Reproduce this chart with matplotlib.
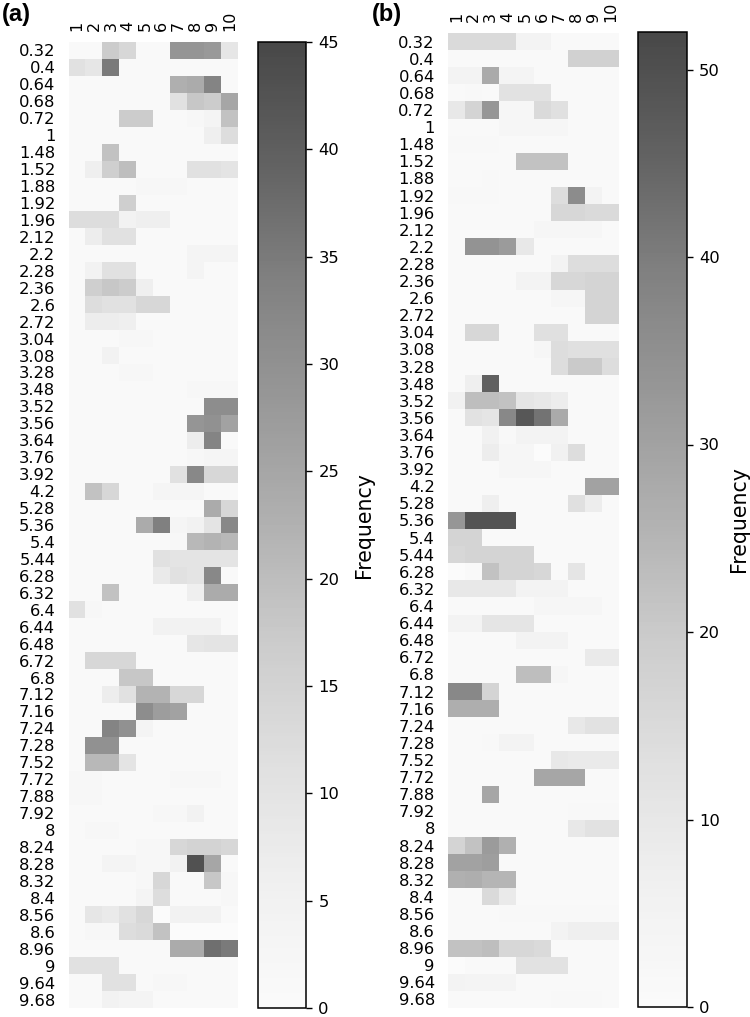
import matplotlib
matplotlib.use("Agg")
import matplotlib.pyplot as plt
import numpy as np

rowsA = ["0.32","0.4","0.64","0.68","0.72","1","1.48","1.52","1.88","1.92","1.96","2.12","2.2","2.28","2.36","2.6","2.72",
	"3.04","3.08","3.28","3.48","3.52","3.56","3.64","3.76","3.92","4.2","5.28","5.36","5.4","5.44","6.28","6.32","6.4",
	"6.44","6.48","6.72","6.8","7.12","7.16","7.24","7.28","7.52","7.72","7.88","7.92","8","8.24","8.28","8.32","8.4",
	"8.56","8.6","8.96","9","9.64","9.68"]
rowsB = rowsA
cols = ["1","2","3","4","5","6","7","8","9","10"]

freqA = [
	[1,1,17,14,1,1,29,29,28,9],
	[11,9,35,1,1,1,1,1,1,1],
	[1,1,1,1,1,1,23,24,33,1],
	[1,1,1,1,1,1,11,18,17,25],
	[1,1,1,17,17,1,1,2,4,19],
	[1,1,1,1,1,1,1,1,6,12],
	[1,1,19,1,1,1,1,1,1,1],
	[1,6,16,20,1,1,1,11,11,10],
	[1,1,1,1,2,2,2,1,1,1],
	[1,1,1,16,1,1,1,1,1,1],
	[12,12,12,5,6,6,1,1,1,1],
	[1,7,11,11,1,1,1,1,1,1],
	[1,1,1,1,1,1,1,4,4,4],
	[1,5,11,11,1,1,1,4,1,1],
	[1,16,18,17,6,1,1,1,1,1],
	[1,12,11,11,14,14,1,1,1,1],
	[1,7,7,6,1,1,1,1,1,1],
	[1,1,1,2,2,1,1,1,1,1],
	[1,1,5,1,1,1,1,1,1,1],
	[1,1,1,2,2,1,1,1,1,1],
	[1,1,1,1,1,1,1,2,2,2],
	[1,1,1,1,1,1,1,1,31,31],
	[1,1,1,1,1,1,1,29,30,26],
	[1,1,1,1,1,1,1,7,33,1],
	[1,1,1,1,1,1,1,2,3,3],
	[1,1,1,1,1,1,11,32,14,14],
	[1,19,14,1,1,3,3,3,1,1],
	[1,1,1,1,1,1,1,1,24,14],
	[1,1,1,1,24,34,3,5,10,32],
	[1,1,1,1,1,1,2,21,22,21],
	[1,1,1,1,1,11,10,10,10,10],
	[1,1,1,1,1,8,11,10,32,1],
	[1,1,19,1,1,1,1,6,24,24],
	[11,2,1,1,1,1,1,1,1,1],
	[1,1,1,1,1,5,5,5,5,1],
	[1,1,1,1,1,1,1,9,10,10],
	[1,14,14,14,1,1,1,1,1,1],
	[1,1,1,18,18,1,1,1,1,1],
	[1,1,7,11,22,22,14,14,1,1],
	[1,1,1,1,31,27,26,1,1,1],
	[1,1,33,30,4,1,1,1,1,1],
	[1,30,30,1,1,1,1,1,1,1],
	[1,21,21,10,1,1,1,1,1,1],
	[2,2,1,1,1,1,2,2,2,1],
	[2,2,1,1,1,1,1,1,1,1],
	[1,1,1,1,1,2,2,5,1,1],
	[1,2,2,1,1,1,1,1,1,1],
	[1,1,1,1,2,2,14,15,15,14],
	[1,1,4,4,2,2,5,43,25,1],
	[1,1,1,1,2,14,1,1,18,2],
	[1,1,1,1,4,12,1,1,1,2],
	[1,9,8,11,14,0,5,5,5,1],
	[1,2,2,12,13,19,0,0,0,0],
	[1,1,1,1,1,1,24,24,37,35],
	[11,11,11,1,1,1,1,1,1,1],
	[1,1,11,11,1,2,2,1,1,1],
	[1,1,5,4,4,1,1,1,1,1],
]

freqB = [
	[15,15,15,15,5,5,1,1,1,1],
	[1,1,1,1,1,1,1,18,18,18],
	[5,5,28,4,4,1,1,1,1,1],
	[1,2,1,12,12,12,1,1,1,1],
	[10,17,33,3,3,15,13,1,1,1],
	[1,1,1,3,3,3,3,1,1,1],
	[2,2,2,1,1,1,1,1,1,1],
	[1,1,1,1,22,22,22,1,1,1],
	[1,1,2,1,1,1,1,1,1,1],
	[2,2,2,1,1,1,14,36,5,1],
	[1,1,1,1,1,1,16,16,15,15],
	[1,1,1,1,1,3,3,3,3,1],
	[1,34,34,32,10,1,1,1,1,1],
	[1,1,1,1,1,1,5,14,14,14],
	[1,1,1,1,5,5,16,16,17,17],
	[1,1,1,1,1,1,3,3,17,17],
	[1,1,1,1,1,1,1,1,17,17],
	[1,16,16,1,1,13,13,1,1,1],
	[1,1,1,1,1,3,14,13,13,13],
	[1,1,1,1,1,1,14,20,20,14],
	[1,7,46,1,1,1,1,1,1,1],
	[6,23,23,22,11,10,8,1,1,1],
	[1,12,11,37,48,42,28,1,1,1],
	[1,1,6,2,5,5,5,1,1,1],
	[1,1,8,3,3,0,6,14,1,1],
	[1,1,1,3,3,3,1,1,1,1],
	[1,1,1,1,1,1,1,1,30,30],
	[1,1,7,1,1,1,1,13,8,1],
	[33,49,49,49,1,1,1,1,1,1],
	[17,17,1,1,1,1,1,1,1,1],
	[16,17,17,17,17,1,1,1,1,1],
	[0,1,22,17,17,16,1,11,1,1],
	[10,10,10,10,5,5,5,1,1,1],
	[1,1,1,1,1,3,3,3,3,1],
	[5,5,11,11,11,1,1,1,1,1],
	[1,1,1,1,5,5,5,1,1,1],
	[1,1,1,1,1,1,1,1,9,9],
	[1,1,1,1,23,23,3,1,1,1],
	[37,37,17,1,1,1,1,1,1,1],
	[27,27,27,1,1,1,1,1,1,1],
	[1,1,1,1,1,1,1,10,12,12],
	[1,1,2,5,5,1,1,1,1,1],
	[1,1,1,1,1,1,10,9,9,9],
	[1,1,1,1,1,29,29,29,1,1],
	[1,1,29,1,1,1,1,1,1,1],
	[1,1,1,1,1,1,1,2,2,2],
	[1,1,1,1,1,1,1,10,12,12],
	[17,22,32,26,1,1,1,1,1,1],
	[30,30,31,1,1,1,1,1,1,1],
	[26,27,25,25,1,1,1,1,1,1],
	[1,1,15,9,1,1,1,1,1,1],
	[1,1,1,2,2,2,2,2,2,2],
	[1,1,1,1,1,1,5,7,7,7],
	[22,22,23,16,16,15,1,1,1,1],
	[0,1,1,1,12,12,12,1,1,1],
	[5,4,4,4,1,1,1,1,1,1],
	[1,1,1,1,1,1,2,2,2,1],
]

W, H = 750, 1017
plt.rcParams["font.family"] = "DejaVu Sans"
fig = plt.figure(figsize=(W/100, H/100), dpi=100)
fig.set_facecolor("white")

def axPx(x0, y0, x1, y1):
	# pixel box (top-left origin) to figure fractions
	return [x0/W, 1-y1/H, (x1-x0)/W, (y1-y0)/H]

def drawPanel(box, cbox, rows, freq, vmax, ticks, labelX):
	ax = fig.add_axes(axPx(*box))
	cax = fig.add_axes(axPx(*cbox))
	# background shows through the alpha, lifts the zero colour off pure white
	ax.set_facecolor("#f2f2f2")
	cax.set_facecolor("#f2f2f2")
	data = np.array(freq)
	mesh = ax.pcolormesh(data, cmap="Greys", vmin=0, vmax=vmax, alpha=0.7, edgecolors="none")
	ax.set_ylim(len(rows), 0)
	ax.xaxis.tick_top()
	ax.set_xticks(np.arange(10)+0.5)
	ax.set_xticklabels(cols, rotation=90, fontsize=11.5)
	ax.set_yticks(np.arange(len(rows))+0.5)
	ax.set_yticklabels(rows, fontsize=11.8)
	ax.tick_params(axis="y", length=0, pad=9.5)
	ax.tick_params(axis="x", length=0, pad=8)
	for s in ax.spines.values():
		s.set_visible(False)
	cb = fig.colorbar(mesh, cax=cax)
	cb.outline.set_linewidth(1.1)
	cb.set_ticks(ticks)
	cb.ax.tick_params(labelsize=11.8, length=4.5, width=1, pad=4)
	cb.set_label("Frequency", fontsize=14.8)
	cb.ax.yaxis.set_label_coords(labelX, 0.5)
	return ax

drawPanel((68.5, 42, 238, 1008), (258, 42, 306.5, 1008), rowsA, freqA, 45, list(range(0, 46, 5)), 1.97)
drawPanel((448, 33, 619, 1008), (638, 32, 687, 1007), rowsB, freqB, 52, [0, 10, 20, 30, 40, 50], 1.86)

fig.text(2/W, 1-15/H, "(a)", fontsize=17, fontweight="bold", family="Liberation Sans", va="center")
fig.text(372/W, 1-15/H, "(b)", fontsize=17, fontweight="bold", family="Liberation Sans", va="center")

plt.savefig("out.png", dpi=100, facecolor="white")
